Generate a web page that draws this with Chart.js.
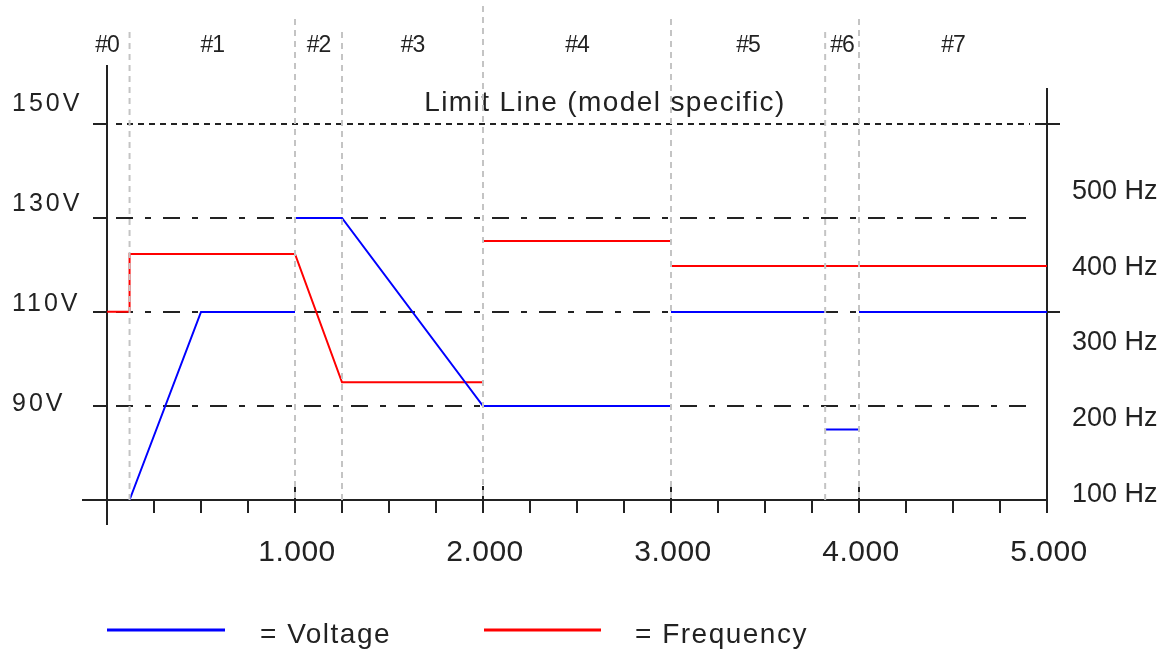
<!DOCTYPE html>
<html>
<head>
<meta charset="utf-8">
<script src="https://cdn.jsdelivr.net/npm/chart.js@4.4.0/dist/chart.umd.min.js"></script>
<style>
  html, body { margin: 0; padding: 0; background: #fff; }
  #wrap { width: 1164px; height: 650px; }
</style>
</head>
<body>
<div id="wrap"><canvas id="chart" width="1164" height="650"></canvas></div>
<script>
// test sequence, time in seconds; null breaks the line
const voltageTimes  = [0.12, 0.5, 1.0, 1.0, 1.0, 1.25, 2.0, 3.0, 3.0, 3.0, 3.82, 3.82, 3.82, 4.0, 4.0, 4.0, 5.0];
const voltageValues = [70, 110, 110, null, 130, 130, 90, 90, null, 110, 110, null, 85, 85, null, 110, 110];
const freqTimes  = [0, 0.12, 0.12, 1.0, 1.25, 2.0, 2.0, 2.0, 3.0, 3.0, 3.0, 5.0];
const freqValues = [340, 340, 416, 416, 247, 247, null, 433, 433, null, 400, 400];

const stepEdges = [0, 0.12, 1.0, 1.25, 2.0, 3.0, 3.82, 4.0, 5.0];
const stepNames = ["#0", "#1", "#2", "#3", "#4", "#5", "#6", "#7"];

const timeTicks = [1, 2, 3, 4, 5];
const timeTickLabels = ["1.000", "2.000", "3.000", "4.000", "5.000"];
const voltTicks = [150, 130, 110, 90];
const voltTickLabels = ["150V", "130V", "110V", "90V"];
const hzTicks = [500, 400, 300, 200, 100];
const hzTickLabels = ["500 Hz", "400 Hz", "300 Hz", "200 Hz", "100 Hz"];
const limitVolt = 150;
const limitLabel = "Limit Line (model specific)";
const legendLabels = ["= Voltage", "= Frequency"];

const ink = "#222";
const font = "'Liberation Sans', Arial, sans-serif";

function toPoints(xs, ys) {
    return xs.map((x, i) => ({ x: x, y: ys[i] }));
}

function hline(ctx, x1, x2, y, dash) {
    ctx.save();
    ctx.setLineDash(dash || []);
    ctx.beginPath();
    ctx.moveTo(x1, y);
    ctx.lineTo(x2, y);
    ctx.stroke();
    ctx.restore();
}

function vline(ctx, x, y1, y2, dash) {
    ctx.save();
    ctx.setLineDash(dash || []);
    ctx.beginPath();
    ctx.moveTo(x, y1);
    ctx.lineTo(x, y2);
    ctx.stroke();
    ctx.restore();
}

function text(ctx, str, x, y, size, align, spacing) {
    ctx.save();
    ctx.font = size + "px " + font;
    ctx.fillStyle = ink;
    ctx.textAlign = align;
    ctx.textBaseline = "middle";
    ctx.letterSpacing = (spacing || 0) + "px";
    ctx.fillText(str, x, y);
    ctx.restore();
}

const framePlugin = {
    id: "frame",
    beforeDatasetsDraw(chart) {
        const ctx = chart.ctx;
        const xs = chart.scales.x;
        const yv = chart.scales.y;
        const yh = chart.scales.y2;
        const left = xs.getPixelForValue(0);
        const right = xs.getPixelForValue(5);
        const bottom = yv.getPixelForValue(70);

        ctx.strokeStyle = ink;
        ctx.lineWidth = 2;

        // reference lines
        voltTicks.forEach(v => {
            const y = yv.getPixelForValue(v);
            const dash = v === limitVolt ? [6, 5] : [17, 12, 6, 12];
            hline(ctx, left + 9, right - 17, y, dash);
        });
        text(ctx, limitLabel, (left + right) / 2 + 28, 103, 28, "center", 1.4);

        // left axis, labels sit above their ticks, a little more for the higher ones
        vline(ctx, left, 65, 525);
        voltTicks.forEach((v, i) => {
            const y = yv.getPixelForValue(v);
            hline(ctx, left - 14, left, y);
            const lift = 2 + (v - 90) * 0.3;
            text(ctx, voltTickLabels[i], 12, y - lift, 25, "left", 3);
        });

        // right axis
        vline(ctx, right, 88, 513);
        [limitVolt, 110].forEach(v => {
            const y = yv.getPixelForValue(v);
            hline(ctx, right - 12, right + 13, y);
        });
        hzTicks.forEach((h, i) => {
            text(ctx, hzTickLabels[i], 1072, yh.getPixelForValue(h) + 1, 27, "left", 0);
        });

        // bottom axis
        hline(ctx, left - 25, right, bottom);
        for (let t = 0.25; t < 5; t += 0.25) {
            const x = xs.getPixelForValue(t);
            if (Number.isInteger(t)) vline(ctx, x, bottom - 14, bottom + 13);
            else vline(ctx, x, bottom, bottom + 13);
        }
        timeTicks.forEach((t, i) => {
            text(ctx, timeTickLabels[i], xs.getPixelForValue(t) + 2, 553, 30, "center", 0.5);
        });

        // step names
        stepNames.forEach((name, i) => {
            const mid = (stepEdges[i] + stepEdges[i + 1]) / 2;
            const x = i === 0 ? left : xs.getPixelForValue(mid);
            text(ctx, name, x, 46, 23, "center", -1);
        });

        // legend
        ctx.save();
        ctx.lineWidth = 3;
        ctx.strokeStyle = "#0000ff";
        hline(ctx, 107, 225, 630);
        ctx.strokeStyle = "#ff0000";
        hline(ctx, 484, 601, 630);
        ctx.restore();
        text(ctx, legendLabels[0], 260, 635, 28, "left", 1.5);
        text(ctx, legendLabels[1], 635, 635, 28, "left", 1.5);
    },
    afterDatasetsDraw(chart) {
        const ctx = chart.ctx;
        const xs = chart.scales.x;
        const bottom = chart.scales.y.getPixelForValue(70);
        ctx.save();
        ctx.strokeStyle = "#c4c4c4";
        ctx.lineWidth = 2;
        stepEdges.slice(1, -1).forEach(t => {
            const top = t === 2 ? 6 : (Number.isInteger(t) ? 19 : 32);
            vline(ctx, xs.getPixelForValue(t), top, bottom, [6, 5]);
        });
        ctx.restore();
    }
};

new Chart(document.getElementById("chart"), {
    type: "line",
    data: {
        datasets: [
            {
                label: "Voltage",
                data: toPoints(voltageTimes, voltageValues),
                yAxisID: "y",
                borderColor: "#0000ff",
                borderWidth: 2,
                pointRadius: 0,
                tension: 0,
                spanGaps: false,
                clip: false
            },
            {
                label: "Frequency",
                data: toPoints(freqTimes, freqValues),
                yAxisID: "y2",
                borderColor: "#ff0000",
                borderWidth: 2,
                pointRadius: 0,
                tension: 0,
                spanGaps: false,
                clip: false
            }
        ]
    },
    options: {
        responsive: false,
        animation: false,
        events: [],
        layout: { padding: { left: 107, top: 77, right: 117, bottom: 150 } },
        plugins: { legend: { display: false }, tooltip: { enabled: false } },
        scales: {
            x: { type: "linear", min: 0, max: 5, display: false },
            y: { type: "linear", min: 70, max: 160, display: false },
            y2: { type: "linear", min: 92, max: 649, display: false }
        }
    },
    plugins: [framePlugin]
});
</script>
</body>
</html>
